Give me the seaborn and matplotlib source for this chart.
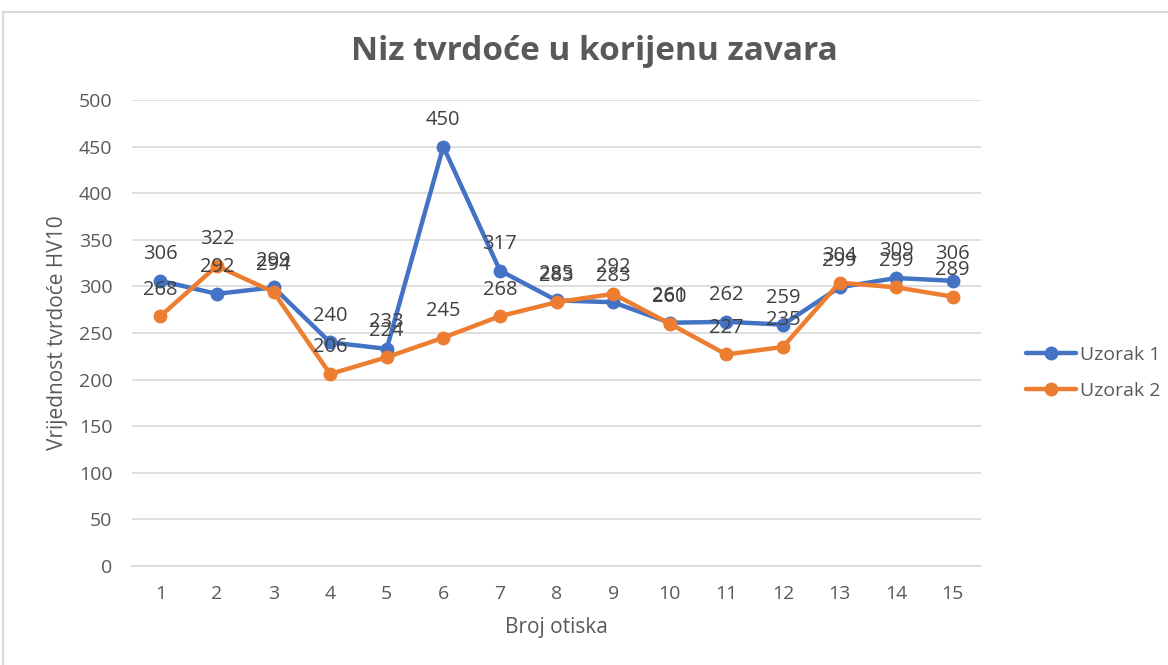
import matplotlib
matplotlib.use("Agg")
import matplotlib.pyplot as plt
import seaborn as sns
import pandas as pd
from matplotlib.patches import Rectangle

# Hardness series measured at each indentation
indent = list(range(1, 16))
uzorak_1 = [306, 292, 299, 240, 233, 450, 317, 285, 283, 261, 262, 259, 299, 309, 306]
uzorak_2 = [268, 322, 294, 206, 224, 245, 268, 283, 292, 260, 227, 235, 304, 299, 289]
series_names = ["Uzorak 1", "Uzorak 2"]
y_ticks = [0, 50, 100, 150, 200, 250, 300, 350, 400, 450, 500]

df = pd.DataFrame({
    "Broj otiska": indent * 2,
    "HV10": uzorak_1 + uzorak_2,
    "Serija": [series_names[0]] * len(indent) + [series_names[1]] * len(indent),
})

sns.set_theme(style="white")
plt.rcParams["font.family"] = ["Open Sans", "DejaVu Sans"]

text_col = "#595959"
palette = {"Uzorak 1": "#4472C4", "Uzorak 2": "#ED7D31"}

fig = plt.figure(figsize=(11.68, 6.65), dpi=100)
ax = fig.add_axes([132 / 1168, 99 / 665, (981 - 132) / 1168, (566 - 100) / 665])

sns.lineplot(data=df, x="Broj otiska", y="HV10", hue="Serija", palette=palette,
             marker="o", markersize=10, markeredgewidth=0, linewidth=3.2,
             ax=ax, legend=False)

# value labels above each point
for name, vals in zip(series_names, [uzorak_1, uzorak_2]):
    for x, v in zip(indent, vals):
        ax.annotate(str(v), (x, v), xytext=(0, 12), textcoords="offset points",
                    ha="center", va="bottom", fontsize=14.5, color="#404040")

ax.set_xlim(0.5, 15.5)
ax.set_ylim(0, 500)
ax.set_xticks(indent)
ax.set_yticks(y_ticks)
ax.tick_params(axis="x", length=0, labelsize=14, colors=text_col, pad=14)
ax.tick_params(axis="y", length=0, labelsize=14, colors=text_col, pad=14)
ax.yaxis.grid(True, color="#d9d9d9", linewidth=1.2)
ax.set_axisbelow(True)
for s in ["top", "right", "left"]:
    ax.spines[s].set_visible(False)
ax.spines["bottom"].set_color("#d9d9d9")
ax.spines["bottom"].set_linewidth(1.2)

ax.set_xlabel("Broj otiska", fontsize=15, color=text_col, labelpad=10)
ax.set_ylabel("Vrijednost tvrdoće HV10", fontsize=15, color=text_col, labelpad=8)

fig.text(594 / 1168, 1 - 52 / 665, "Niz tvrdoće u korijenu zavara", ha="center",
         va="center", fontsize=24, fontweight="bold", color=text_col)

# legend entries
handles = [plt.Line2D([], [], color=palette[n], marker="o", markersize=10,
                      markeredgewidth=0, linewidth=3.2) for n in series_names]
fig.legend(handles, series_names, loc="center left",
           bbox_to_anchor=(1008 / 1168, 1 - 373 / 665), frameon=False,
           fontsize=14, labelcolor=text_col, handlelength=2.6, labelspacing=0.9,
           handletextpad=0.2)

# chart frame
fig.patches.append(Rectangle((3 / 1168, -0.1), 1.2, 1 - 12 / 665 + 0.1,
                             transform=fig.transFigure, fill=False,
                             edgecolor="#d9d9d9", linewidth=1.5))

fig.savefig("out.png", dpi=100)
